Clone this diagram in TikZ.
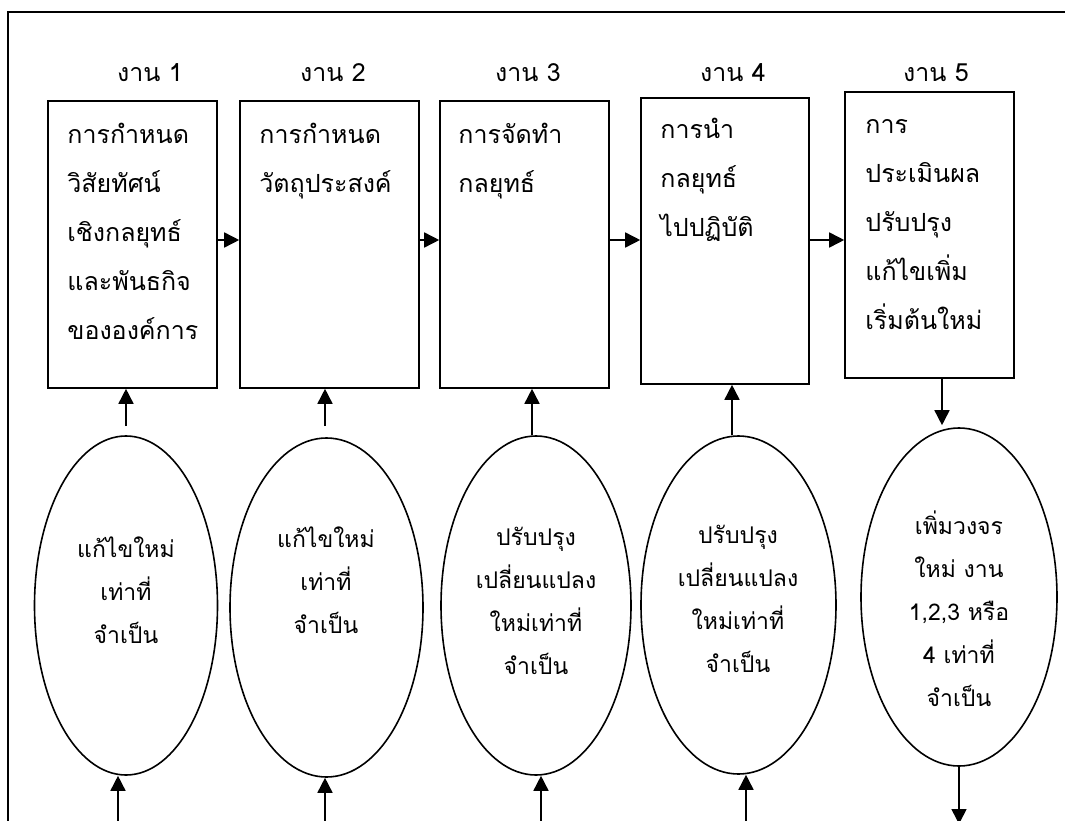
\documentclass[tikz,border=0pt]{standalone}
\usepackage{fontspec}
\newfontfamily\thai[Script=Thai]{Loma}
\usetikzlibrary{arrows.meta,shapes.geometric}
\begin{document}
\begin{tikzpicture}[x=1pt,y=-1pt,
  every node/.style={inner sep=0pt},
  frameline/.style={line width=1.6pt},
  box/.style={draw,line width=1.6pt},
  oval/.style={draw,ellipse,line width=1.6pt},
  arr/.style={line width=1.6pt,-{Triangle[length=15pt,width=15pt]}},
  title/.style={font=\thai\fontsize{25}{30}\selectfont,anchor=base},
  boxtext/.style={font=\thai\fontsize{25}{49}\selectfont,align=left,anchor=north west},
  ovaltext/.style={font=\thai\fontsize{23}{43}\selectfont,align=center}]
\useasboundingbox (0,0) rectangle (1065,821);
% outer frame
\coordinate (fr) at (1066,12);
\coordinate (fb) at (8,822);
\draw[frameline] (fr) -- (8,12) -- (fb);
% titles
\node[title] (t1) at (150,82) {งาน 1};
\node[title] (t2) at (333,82) {งาน 2};
\node[title] (t3) at (528,82) {งาน 3};
\node[title] (t4) at (733,82) {งาน 4};
\node[title] (t5) at (936,82) {งาน 5};
% boxes
\node[box,minimum width=169pt,minimum height=287pt] (b1) at (132.5,244.5) {};
\node[box,minimum width=179pt,minimum height=287pt] (b2) at (329.5,244.5) {};
\node[box,minimum width=169pt,minimum height=287pt] (b3) at (524.5,244.5) {};
\node[box,minimum width=168pt,minimum height=286pt] (b4) at (725,241) {};
\node[box,minimum width=169pt,minimum height=286pt] (b5) at (929.5,235) {};
% box texts
\node[boxtext] (bt1) at ([shift={(20pt,-13pt)}]b1.north west) {\rule{0pt}{30pt}การกำหนด\\วิสัยทัศน์\\เชิงกลยุทธ์\\และพันธกิจ\\ขององค์การ};
\node[boxtext] (bt2) at ([shift={(20pt,-13pt)}]b2.north west) {\rule{0pt}{30pt}การกำหนด\\วัตถุประสงค์};
\node[boxtext] (bt3) at ([shift={(19pt,-13pt)}]b3.north west) {\rule{0pt}{30pt}การจัดทำ\\กลยุทธ์};
\node[boxtext] (bt4) at ([shift={(20pt,-11pt)}]b4.north west) {\rule{0pt}{30pt}การนำ\\กลยุทธ์\\ไปปฏิบัติ};
\node[boxtext] (bt5) at ([shift={(21pt,-12pt)}]b5.north west) {\rule{0pt}{30pt}การ\\ประเมินผล\\ปรับปรุง\\แก้ไขเพิ่ม\\เริ่มต้นใหม่};
% ellipses
\node[oval,minimum width=183pt,minimum height=339pt] (e1) at (126,605.5) {};
\node[oval,minimum width=193pt,minimum height=339pt] (e2) at (326.5,607.5) {};
\node[oval,minimum width=190pt,minimum height=339pt] (e3) at (536,605.5) {};
\node[oval,minimum width=195pt,minimum height=338pt] (e4) at (738.5,605) {};
\node[oval,minimum width=196pt,minimum height=338pt] (e5) at (959,597) {};
% ellipse texts
\node[ovaltext] (et1) at (126,590) {แก้ไขใหม่\\เท่าที่\\จำเป็น};
\node[ovaltext] (et2) at (326,580) {แก้ไขใหม่\\เท่าที่\\จำเป็น};
\node[ovaltext] (et3) at (536,601) {ปรับปรุง\\เปลี่ยนแปลง\\ใหม่เท่าที่\\จำเป็น};
\node[ovaltext] (et4) at (738,599) {ปรับปรุง\\เปลี่ยนแปลง\\ใหม่เท่าที่\\จำเป็น};
\node[ovaltext] (et5) at (959,609) {เพิ่มวงจร\\ใหม่ งาน\\1,2,3 หรือ\\4 เท่าที่\\จำเป็น};
% horizontal arrows
\coordinate (row) at (0,240);
\draw[arr] (b1.east |- row) -- (b2.west |- row);
\draw[arr] (b2.east |- row) -- (b3.west |- row);
\draw[arr] (b3.east |- row) -- (b4.west |- row);
\draw[arr] (b4.east |- row) -- (b5.west |- row);
% up arrows from ellipses to boxes
\coordinate (x1) at (126,0);
\coordinate (x2) at (325,0);
\coordinate (x3) at (532,0);
\coordinate (x4) at (732,0);
\coordinate (x5) at (942,0);
\draw[arr] ([yshift=9pt]e1.north -| x1) -- (b1.south -| x1);
\draw[arr] ([yshift=11pt]e2.north -| x2) -- (b2.south -| x2);
\draw[arr] (e3.north -| x3) -- (b3.south -| x3);
\draw[arr] (e4.north -| x4) -- (b4.south -| x4);
\draw[arr] (b5.south -| x5) -- ([yshift=2pt]e5.north -| x5);
% bottom arrows
\coordinate (d1) at (118,822);
\coordinate (d2) at (325,822);
\coordinate (d3) at (541,822);
\coordinate (d4) at (746,822);
\coordinate (d5) at (959,824);
\draw[arr] (d1) -- (e1.south -| d1);
\draw[arr] (d2) -- (e2.south -| d2);
\draw[arr] (d3) -- (e3.south -| d3);
\draw[arr] (d4) -- (e4.south -| d4);
\draw[arr] (e5.south) -- (d5);
\end{tikzpicture}
\end{document}
